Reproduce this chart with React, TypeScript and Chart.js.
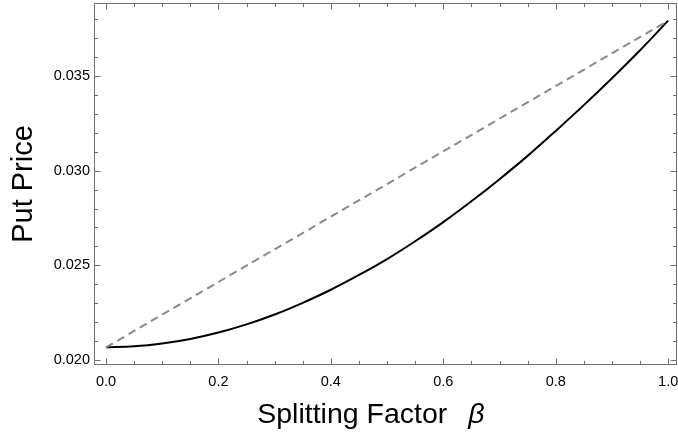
import React, { useEffect, useRef } from 'react';
import { Chart, registerables } from 'chart.js';

Chart.register(...registerables);

// ---- data ----
const curveBeta = [0, 0.05, 0.1, 0.15, 0.2, 0.25, 0.3, 0.35, 0.4, 0.45, 0.5, 0.55, 0.6, 0.65, 0.7, 0.75, 0.8, 0.85, 0.9, 0.95, 1];
const curvePrice = [0.02067, 0.02072, 0.02087, 0.02111, 0.02145, 0.02188, 0.02240, 0.02302, 0.02371, 0.02449, 0.02533, 0.02627, 0.02728, 0.02838, 0.02955, 0.03078, 0.03210, 0.03346, 0.03488, 0.03636, 0.03792];

const lineBeta = [0, 1];
const linePrice = [0.02067, 0.03792];

const xTickValues = [0, 0.2, 0.4, 0.6, 0.8, 1.0];
const xMinorTicks = [0.05, 0.1, 0.15, 0.25, 0.3, 0.35, 0.45, 0.5, 0.55, 0.65, 0.7, 0.75, 0.85, 0.9, 0.95];
const yTickValues = [0.02, 0.025, 0.03, 0.035];
const yMinorTicks = [0.021, 0.022, 0.023, 0.024, 0.026, 0.027, 0.028, 0.029, 0.031, 0.032, 0.033, 0.034, 0.036, 0.037, 0.038];

const xRange = [-0.0213, 1.0148];
const yRange = [0.019736, 0.038854];

const xTitle = 'Splitting Factor';
const xTitleSymbol = 'β';
const yTitle = 'Put Price';

const FONT = '"Liberation Sans", Arial, Helvetica, sans-serif';
const FRAME_COLOR = '#6f6f6f';

const framePlugin = {
  id: 'frameTicks',
  afterDraw(chart: any) {
    const { ctx, chartArea } = chart;
    const xs = chart.scales.x;
    const ys = chart.scales.y;
    const { left, right, top, bottom } = chartArea;
    ctx.save();
    ctx.strokeStyle = FRAME_COLOR;
    ctx.lineWidth = 1;
    ctx.strokeRect(Math.round(left) + 0.5, Math.round(top) + 0.5, Math.round(right) - Math.round(left) - 1, Math.round(bottom) - Math.round(top) - 1);
    const b = Math.round(bottom) - 0.5;
    const t = Math.round(top) + 0.5;
    const l = Math.round(left) + 0.5;
    const r = Math.round(right) - 0.5;
    ctx.beginPath();
    const xt = (v: number, len: number) => {
      const p = Math.round(xs.getPixelForValue(v)) + 0.5;
      ctx.moveTo(p, b); ctx.lineTo(p, b - len);
      ctx.moveTo(p, t); ctx.lineTo(p, t + len);
    };
    const yt = (v: number, len: number) => {
      const p = Math.round(ys.getPixelForValue(v)) + 0.5;
      ctx.moveTo(l, p); ctx.lineTo(l + len, p);
      ctx.moveTo(r, p); ctx.lineTo(r - len, p);
    };
    xTickValues.forEach((v) => xt(v, 6));
    xMinorTicks.forEach((v) => xt(v, 3.5));
    yTickValues.forEach((v) => yt(v, 6));
    yMinorTicks.forEach((v) => yt(v, 3.5));
    ctx.stroke();

    // x axis title with italic symbol
    const size = 28.5;
    ctx.fillStyle = '#000';
    ctx.textBaseline = 'alphabetic';
    ctx.textAlign = 'left';
    ctx.font = `${size}px ${FONT}`;
    const w1 = ctx.measureText(xTitle).width;
    const center = (left + right) / 2 - 14;
    const startX = center - 114;
    const baseY = bottom + 58;
    ctx.fillText(xTitle, startX, baseY);
    ctx.font = `italic ${size}px ${FONT}`;
    ctx.fillText(xTitleSymbol, startX + w1 + 21, baseY);
    ctx.restore();
  },
};

export default function App() {
  const canvasRef = useRef<HTMLCanvasElement | null>(null);

  useEffect(() => {
    document.body.style.margin = '0';
    const canvas = canvasRef.current;
    if (!canvas) return;
    const curveData = curveBeta.map((b, i) => ({ x: b, y: curvePrice[i] }));
    const lineData = lineBeta.map((b, i) => ({ x: b, y: linePrice[i] }));

    const chart = new Chart(canvas, {
      type: 'line',
      data: {
        datasets: [
          {
            label: 'linear',
            data: lineData,
            borderColor: '#8a8a8a',
            borderWidth: 2,
            borderDash: [8, 5],
            pointRadius: 0,
            fill: false,
          },
          {
            label: 'put',
            data: curveData,
            borderColor: '#000000',
            borderWidth: 2,
            pointRadius: 0,
            cubicInterpolationMode: 'monotone',
            fill: false,
          },
        ],
      },
      options: {
        animation: false,
        responsive: true,
        maintainAspectRatio: false,
        layout: { padding: { top: 3, right: 1.5, bottom: 0, left: 0 } },
        plugins: {
          legend: { display: false },
          tooltip: { enabled: false },
          title: { display: false },
        },
        scales: {
          x: {
            type: 'linear',
            min: xRange[0],
            max: xRange[1],
            grid: { display: false, drawTicks: false },
            border: { display: false },
            ticks: {
              padding: 8,
              color: '#000',
              font: { family: FONT, size: 14.5 },
              maxRotation: 0,
              autoSkip: false,
              callback: (v: any) => Number(v).toFixed(1),
            },
            afterBuildTicks: (scale: any) => {
              scale.ticks = xTickValues.map((v) => ({ value: v }));
            },
            afterFit: (scale: any) => {
              scale.height = 74;
              scale.paddingLeft = 0;
              scale.paddingRight = 0;
            },
          },
          y: {
            type: 'linear',
            min: yRange[0],
            max: yRange[1],
            grid: { display: false, drawTicks: false },
            border: { display: false },
            ticks: {
              padding: 4,
              color: '#000',
              font: { family: FONT, size: 14.5 },
              autoSkip: false,
              callback: (v: any) => Number(v).toFixed(3),
            },
            afterBuildTicks: (scale: any) => {
              scale.ticks = yTickValues.map((v) => ({ value: v }));
            },
            afterFit: (scale: any) => {
              scale.width = 94;
              scale.paddingTop = 0;
              scale.paddingBottom = 0;
            },
            title: {
              display: true,
              text: yTitle,
              color: '#000',
              font: { family: FONT, size: 29 },
              padding: { top: 7, bottom: 0 },
            },
          },
        },
      },
      plugins: [framePlugin],
    } as any);

    return () => chart.destroy();
  }, []);

  return (
    <div style={{ position: 'relative', width: 678, height: 439 }}>
      <canvas ref={canvasRef} />
    </div>
  );
}
